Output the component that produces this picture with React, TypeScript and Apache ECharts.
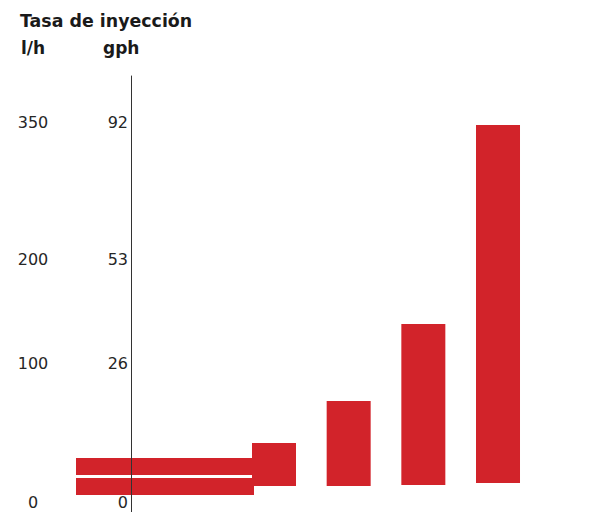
import React, { useEffect, useRef } from "react";
import * as echarts from "echarts";

// Tick labels (two unit scales) and their positions on the drawing's height scale
const tickPositions = [10, 149, 253, 390];
const lhLabels = ["0", "100", "200", "350"];
const gphLabels = ["0", "26", "53", "92"];

// Vertical bars
const columnCategories = ["A", "B", "C", "D"];
const columnBase = [26, 26, 27, 29];
const columnHeights = [43, 85, 161, 358];

// Horizontal bars
const rowCategories = ["R1", "R2"];
const rowLengths = [176, 178];

const RED = "#d2232a";
const FONT = "DejaVu Sans";

export default function App() {
  const ref = useRef<HTMLDivElement>(null);
  useEffect(() => {
    if (!ref.current) return;
    const chart = echarts.init(ref.current, undefined, { renderer: "svg" });
    const lhMap: Record<number, string> = {};
    const gphMap: Record<number, string> = {};
    tickPositions.forEach((p, i) => {
      lhMap[p] = lhLabels[i];
      gphMap[p] = gphLabels[i];
    });
    chart.setOption({
      animation: false,
      backgroundColor: "#ffffff",
      graphic: [
        {
          type: "text",
          left: 20,
          top: 12,
          style: { text: "Tasa de inyección", font: `bold 17.4px "${FONT}"`, fill: "#1a1a1a" },
        },
        {
          type: "text",
          left: 21,
          top: 39,
          style: { text: "l/h", font: `bold 17px "${FONT}"`, fill: "#1a1a1a" },
        },
        {
          type: "text",
          left: 103,
          top: 39,
          style: { text: "gph", font: `bold 17px "${FONT}"`, fill: "#1a1a1a" },
        },
      ],
      grid: [
        { left: 131, top: 76, bottom: 0, width: 400 },
        { left: 236.67, top: 76, bottom: 0, width: 298.67 },
        { left: 76, top: 456.5, height: 40, width: 178 },
      ],
      xAxis: [
        { gridIndex: 0, type: "value", show: false, min: 0, max: 100 },
        {
          gridIndex: 1,
          type: "category",
          data: columnCategories,
          show: false,
        },
        { gridIndex: 2, type: "value", show: false, min: 0, max: 178 },
      ],
      yAxis: [
        {
          gridIndex: 0,
          type: "value",
          min: 0,
          max: 436,
          z: 10,
          splitLine: { show: false },
          axisLine: { show: true, lineStyle: { color: "#333333", width: 1 } },
          axisTick: { show: false },
          axisLabel: {
            customValues: tickPositions,
            formatter: (v: number) => gphMap[v] ?? "",
            margin: 3,
            fontFamily: FONT,
            fontSize: 16,
            color: "#262626",
          },
        },
        {
          gridIndex: 0,
          type: "value",
          position: "left",
          min: 0,
          max: 436,
          splitLine: { show: false },
          axisLine: { show: false },
          axisTick: { show: false },
          axisLabel: {
            customValues: tickPositions,
            formatter: (v: number) => lhMap[v] ?? "",
            margin: 98,
            align: "center",
            fontFamily: FONT,
            fontSize: 16,
            color: "#262626",
          },
        },
        { gridIndex: 1, type: "value", show: false, min: 0, max: 436 },
        {
          gridIndex: 2,
          type: "category",
          data: rowCategories,
          inverse: true,
          show: false,
        },
      ],
      series: [
        {
          type: "bar",
          xAxisIndex: 1,
          yAxisIndex: 2,
          stack: "col",
          data: columnBase,
          barWidth: 44,
          itemStyle: { color: "transparent" },
          silent: true,
        },
        {
          type: "bar",
          xAxisIndex: 1,
          yAxisIndex: 2,
          stack: "col",
          data: columnHeights,
          barWidth: 44,
          itemStyle: { color: RED },
        },
        {
          type: "bar",
          xAxisIndex: 2,
          yAxisIndex: 3,
          data: rowLengths,
          barWidth: 17,
          itemStyle: { color: RED },
        },
      ],
    });
    return () => chart.dispose();
  }, []);
  return (
    <div
      ref={ref}
      style={{ position: "fixed", left: 0, top: 0, width: 598, height: 512 }}
    />
  );
}
